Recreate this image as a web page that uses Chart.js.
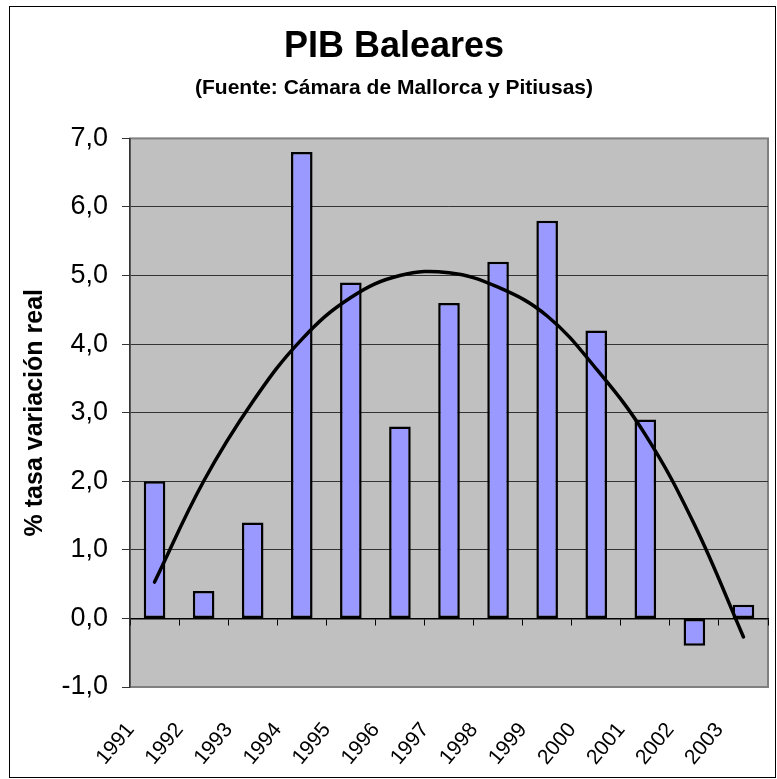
<!DOCTYPE html>
<html>
<head>
<meta charset="utf-8">
<title>PIB Baleares</title>
<script src="https://cdn.jsdelivr.net/npm/chart.js@4.4.1/dist/chart.umd.min.js"></script>
<style>
  html, body { margin: 0; padding: 0; background: #fff; }
  #wrap { position: relative; width: 777px; height: 779px; }
  #frame { position: absolute; left: 9px; top: 6px; width: 767px; height: 772px;
           border: 1px solid #000; box-sizing: border-box; pointer-events: none; }
</style>
</head>
<body>
<div id="wrap">
  <canvas id="chart" width="777" height="779"></canvas>
  <div id="frame"></div>
</div>
<script>
"use strict";

// data
var years = ["1991", "1992", "1993", "1994", "1995", "1996", "1997",
             "1998", "1999", "2000", "2001", "2002", "2003"];
var pibValues = [2.0, 0.4, 1.4, 6.8, 4.9, 2.8, 4.6, 5.2, 5.8, 4.2, 2.9, -0.4, 0.2];
var trendValues = [0.53, 2.0, 3.16, 4.07, 4.68, 5.0, 5.04, 4.83, 4.41, 3.64, 2.68, 1.37, -0.27];
var yMin = -1, yMax = 7, yStep = 1;

var FONT = "'Liberation Sans', Arial, Helvetica, sans-serif";

// grey plot area with its frame, like the Excel original
var plotFrame = {
    id: "plotFrame",
    beforeDraw: function (chart) {
        var a = chart.chartArea, ctx = chart.ctx;
        ctx.save();
        ctx.fillStyle = "#ffffff";
        ctx.fillRect(0, 0, chart.width, chart.height);
        ctx.fillStyle = "#c0c0c0";
        ctx.fillRect(a.left, a.top, a.right - a.left, a.bottom - a.top);
        ctx.strokeStyle = "#808080";
        ctx.lineWidth = 2;
        ctx.strokeRect(a.left, a.top, a.right - a.left, a.bottom - a.top);
        ctx.restore();
    }
};

var ctx = document.getElementById("chart").getContext("2d");

var chart = new Chart(ctx, {
    type: "bar",
    data: {
        labels: years,
        datasets: [{
            type: "line",
            label: "Tendencia",
            data: trendValues,
            xAxisID: "x",
            borderColor: "#000000",
            borderWidth: 3.5,
            borderCapStyle: "round",
            pointRadius: 0,
            tension: 0.4,
            fill: false,
            order: 0
        }, {
            label: "PIB",
            data: pibValues,
            xAxisID: "x",
            backgroundColor: "#9999ff",
            borderColor: "#000000",
            borderWidth: 2.5,
            borderSkipped: false,
            barPercentage: 0.44,
            categoryPercentage: 1.0,
            order: 1
        }]
    },
    options: {
        responsive: false,
        animation: false,
        layout: { padding: { top: 25, left: 20, right: 9, bottom: 0 } },
        plugins: {
            legend: { display: false },
            tooltip: { enabled: false },
            title: {
                display: true,
                text: "PIB Baleares",
                color: "#000",
                font: { family: FONT, size: 36, weight: "bold" },
                padding: { top: 0, bottom: 7 }
            },
            subtitle: {
                display: true,
                text: "(Fuente: Cámara de Mallorca y Pitiusas)",
                color: "#000",
                font: { family: FONT, size: 21, weight: "bold" },
                padding: { top: 0, bottom: 38 }
            }
        },
        scales: {
            x: {
                type: "category",
                position: "bottom",
                offset: true,
                grid: { display: false },
                border: { display: false },
                ticks: {
                    color: "#000",
                    font: { family: FONT, size: 21 },
                    autoSkip: false,
                    minRotation: 50,
                    maxRotation: 50,
                    padding: 23,
                    labelOffset: -24
                },
                afterFit: function (scale) {
                    scale.height = 92;
                    scale.paddingLeft = 0;
                    scale.paddingRight = 0;
                }
            },
            // axis line at 0 with the small category ticks under it
            x2: {
                type: "category",
                position: { y: 0 },
                offset: true,
                grid: {
                    display: true,
                    offset: true,
                    drawOnChartArea: false,
                    drawTicks: true,
                    tickLength: 6,
                    color: "#000"
                },
                border: { display: true, color: "#000", width: 1.5 },
                ticks: { display: false }
            },
            y: {
                min: yMin,
                max: yMax,
                ticks: {
                    stepSize: yStep,
                    color: "#000",
                    padding: 14,
                    font: { family: FONT, size: 27 },
                    callback: function (value) {
                        return value.toFixed(1).replace(".", ",");
                    }
                },
                grid: {
                    color: function (c) {
                        return (c.tick && (c.tick.value === yMin || c.tick.value === yMax)) ? "#808080" : "#333333";
                    },
                    tickColor: "#333333",
                    lineWidth: 1,
                    tickLength: 8
                },
                border: { display: true, color: "#333333", width: 1.5 },
                title: {
                    display: true,
                    text: "% tasa variación real",
                    color: "#000",
                    font: { family: FONT, size: 25, weight: "bold" },
                    padding: { top: 0, bottom: 0 }
                },
                afterFit: function (scale) { scale.width = 110; }
            }
        }
    },
    plugins: [plotFrame]
});
</script>
</body>
</html>
